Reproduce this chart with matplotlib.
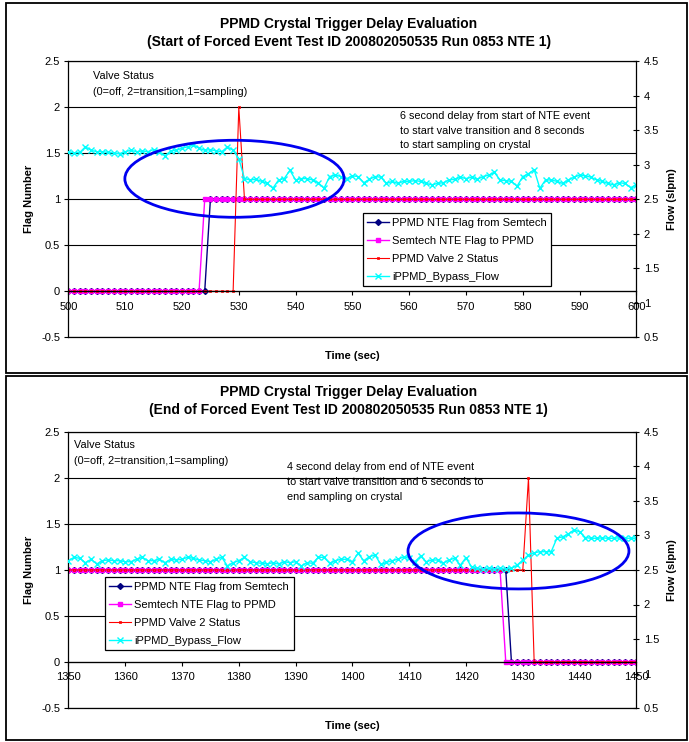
import matplotlib
matplotlib.use("Agg")
import matplotlib.pyplot as plt
from matplotlib.patches import Ellipse, Rectangle
from matplotlib.ticker import FuncFormatter
import numpy as np

plt.rcParams['font.family'] = ['Liberation Sans', 'DejaVu Sans']

# ---------------- data: start of forced event ----------------
time_start = list(range(500, 601))
nte_from_semtech_start = [0] * 25 + [1] * 76          # 500-524 off, 525-600 on
nte_to_ppmd_start = [0] * 24 + [1] * 77               # 500-523 off, 524-600 on
valve2_start = [0] * 30 + [2] + [1] * 70              # 530 = transition
bypass_flow_start = [
    3.19, 3.17, 3.18, 3.26, 3.21, 3.19, 3.19, 3.18, 3.17, 3.16,
    3.19, 3.21, 3.19, 3.20, 3.19, 3.22, 3.19, 3.13, 3.20, 3.21,
    3.24, 3.26, 3.29, 3.24, 3.21, 3.22, 3.20, 3.19, 3.26, 3.21,
    3.09, 2.80, 2.78, 2.79, 2.76, 2.73, 2.66, 2.78, 2.80, 2.92,
    2.78, 2.80, 2.80, 2.78, 2.74, 2.66, 2.83, 2.85, 2.83, 2.80,
    2.84, 2.83, 2.74, 2.79, 2.83, 2.82, 2.73, 2.76, 2.73, 2.76,
    2.76, 2.77, 2.76, 2.73, 2.71, 2.73, 2.74, 2.78, 2.79, 2.82,
    2.80, 2.82, 2.79, 2.83, 2.85, 2.89, 2.78, 2.77, 2.76, 2.69,
    2.83, 2.87, 2.93, 2.66, 2.78, 2.78, 2.76, 2.73, 2.78, 2.82,
    2.85, 2.84, 2.82, 2.78, 2.76, 2.73, 2.71, 2.74, 2.73, 2.67,
    2.71,
]

# ---------------- data: end of forced event ----------------
time_end = list(range(1350, 1451))
nte_from_semtech_end = [1] * 78 + [0] * 23            # 1350-1427 on
nte_to_ppmd_end = [1] * 77 + [0] * 24                 # 1350-1426 on
valve2_end = [1] * 81 + [2] + [0] * 19                # 1431 = transition
bypass_flow_end = [
    2.635, 2.684, 2.669, 2.606, 2.655, 2.587, 2.635, 2.645, 2.635, 2.635,
    2.620, 2.620, 2.655, 2.684, 2.635, 2.635, 2.655, 2.606, 2.655, 2.645,
    2.655, 2.684, 2.669, 2.645, 2.635, 2.620, 2.655, 2.684, 2.558, 2.606,
    2.635, 2.684, 2.620, 2.606, 2.597, 2.587, 2.606, 2.587, 2.620, 2.606,
    2.620, 2.558, 2.606, 2.597, 2.684, 2.684, 2.597, 2.635, 2.655, 2.655,
    2.620, 2.742, 2.635, 2.693, 2.717, 2.580, 2.610, 2.635, 2.655, 2.690,
    2.670, 2.620, 2.700, 2.620, 2.645, 2.645, 2.600, 2.645, 2.670, 2.570,
    2.680, 2.540, 2.525, 2.510, 2.525, 2.510, 2.525, 2.510, 2.525, 2.570,
    2.645, 2.717, 2.750, 2.765, 2.765, 2.765, 2.960, 2.980, 3.020, 3.080,
    3.055, 2.970, 2.960, 2.960, 2.965, 2.960, 2.960, 2.965, 2.960, 2.960,
    2.960,
]

series_names = ["PPMD NTE Flag from Semtech", "Semtech NTE Flag to PPMD",
                "PPMD Valve 2 Status", "iPPMD_Bypass_Flow"]
status_lines = ["Valve Status", "(0=off, 2=transition,1=sampling)"]

W, H = 689, 742
fig = plt.figure(figsize=(W / 100, H / 100), dpi=100)


def px_box(x0, y0, x1, y1):
    return [x0 / W, 1 - y1 / H, (x1 - x0) / W, (y1 - y0) / H]


def fmt(v, pos):
    return f"{v:g}"


def panel(ax_box, frame_box, titles, title_y, t, f_from, f_to, valve, flow,
          xticks, status_xy, notes, note_xy, leg_xy, ell):
    fig.add_artist(Rectangle(frame_box[:2], frame_box[2], frame_box[3],
                             transform=fig.transFigure, fill=False,
                             edgecolor='black', lw=1.3))
    for s, y in zip(titles, title_y):
        fig.text(348.7 / W, 1 - y / H, s, ha='center', va='center',
                 fontsize=10, fontweight='bold')

    ax = fig.add_axes(ax_box)
    ax.set_xlim(xticks[0], xticks[-1])
    ax.set_ylim(-0.5, 2.5)
    ax.set_xticks(xticks)
    ax.set_yticks(np.arange(-0.5, 2.51, 0.5))
    ax.yaxis.set_major_formatter(FuncFormatter(fmt))
    ax.grid(axis='y', color='black', lw=0.8)
    ax.set_axisbelow(True)
    ax.spines['bottom'].set_position(('data', 0))
    ax.spines['right'].set_visible(False)
    ax.spines['top'].set_visible(False)
    for sp in ax.spines.values():
        sp.set_linewidth(0.9)
    ax.axhline(-0.5, color='black', lw=0.9, clip_on=False)
    ax.axhline(2.5, color='black', lw=0.9, clip_on=False)
    ax.tick_params(axis='x', direction='out', length=3, width=0.8,
                   labelsize=8, pad=4.5)
    ax.tick_params(axis='y', direction='out', length=3, width=0.8,
                   labelsize=8, pad=3)

    l1, = ax.plot(t, f_from, color='#000080', lw=1.0, marker='D', ms=3.0,
                  mfc='#000080', mec='#000080', label=series_names[0])
    l2, = ax.plot(t, f_to, color='#FF00FF', lw=1.0, marker='s', ms=3.5,
                  mfc='#FF00FF', mec='#FF00FF', label=series_names[1])
    l3, = ax.plot(t, valve, color='#FF0000', lw=0.8, marker='s', ms=2.0,
                  mfc='none', mec='#FF0000', mew=0.6, label=series_names[2])

    ax2 = ax.twinx()
    ax2.set_ylim(0.5, 4.5)
    ax2.set_yticks(np.arange(0.5, 4.51, 0.5))
    ax2.yaxis.set_major_formatter(FuncFormatter(fmt))
    for k in ('top', 'bottom', 'left'):
        ax2.spines[k].set_visible(False)
    ax2.spines['right'].set_linewidth(0.9)
    ax2.tick_params(axis='y', direction='inout', length=4.5, width=0.8,
                    labelsize=8, pad=3)
    l4, = ax2.plot(t, flow, color='#00FFFF', lw=1.0, marker='x', ms=4.5,
                   mew=1.0, label=series_names[3])

    ax2.add_patch(Ellipse(ell[:2], ell[2], ell[3], transform=ax.transData,
                          fill=False, edgecolor='#0000F0', lw=2.0, zorder=10))

    leg = ax2.legend(handles=[l1, l2, l3, l4], loc='upper left',
                     bbox_to_anchor=leg_xy, borderaxespad=0, fontsize=8,
                     frameon=True, fancybox=False, framealpha=1,
                     edgecolor='black', handlelength=1.95, handletextpad=0.3,
                     labelspacing=0.72, borderpad=0.4, numpoints=1)
    leg.get_frame().set_linewidth(0.9)

    for s, y in zip(status_lines, status_xy[1]):
        ax.text(status_xy[0], y, s, transform=ax.transAxes, fontsize=7.8,
                ha='left', va='center')
    for s, y in zip(notes, note_xy[1]):
        ax.text(note_xy[0], y, s, transform=ax.transAxes, fontsize=7.8,
                ha='left', va='center')

    ax.text(0.5, -0.066, "Time (sec)", transform=ax.transAxes, fontsize=8,
            fontweight='bold', ha='center', va='center')
    ax.text(-0.069, 0.5, "Flag Number", transform=ax.transAxes, fontsize=8,
            fontweight='bold', ha='center', va='center', rotation=90)
    ax.text(1.062, 0.5, "Flow (slpm)", transform=ax.transAxes, fontsize=8,
            fontweight='bold', ha='center', va='center', rotation=90)


panel(px_box(68.4, 61.3, 636.4, 337.3), px_box(6, 3, 687, 373),
      ["PPMD Crystal Trigger Delay Evaluation",
       "(Start of Forced Event Test ID 200802050535 Run 0853 NTE 1)"],
      [24, 42],
      time_start, nte_from_semtech_start, nte_to_ppmd_start, valve2_start,
      bypass_flow_start, list(range(500, 601, 10)),
      (0.043, [0.9467, 0.8888]),
      ["6 second delay from start of NTE event",
       "to start valve transition and 8 seconds",
       "to start sampling on crystal"],
      (0.584, [0.8011, 0.7486, 0.6960]),
      (0.518, 0.449),
      (529.24, 1.223, 38.6, 0.837))

panel(px_box(68.4, 432, 636.4, 708), px_box(6, 376, 687, 740),
      ["PPMD Crystal Trigger Delay Evaluation",
       "(End of Forced Event Test ID 200802050535 Run 0853 NTE 1)"],
      [392, 410],
      time_end, nte_from_semtech_end, nte_to_ppmd_end, valve2_end,
      bypass_flow_end, list(range(1350, 1451, 10)),
      (0.0099, [0.9529, 0.8949]),
      ["4 second delay from end of NTE event",
       "to start valve transition and 6 seconds to",
       "end sampling on crystal"],
      (0.3843, [0.8732, 0.8188, 0.7645]),
      (0.0644, 0.4736),
      (1429.24, 1.207, 38.9, 0.826))

fig.savefig("out.png", dpi=100)
